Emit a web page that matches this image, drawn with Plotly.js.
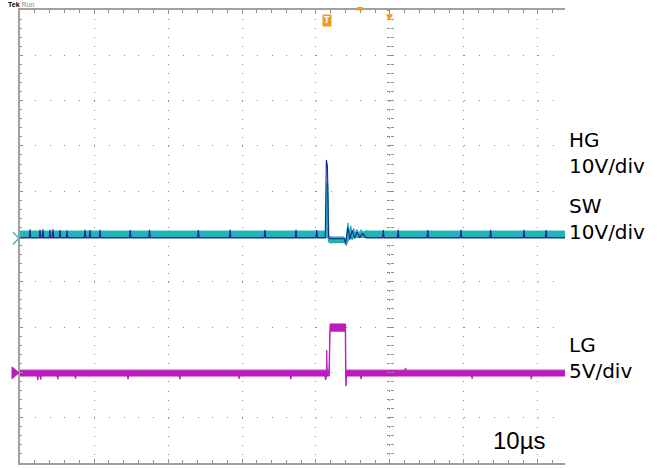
<!DOCTYPE html>
<html>
<head>
<meta charset="utf-8">
<script src="https://cdn.plot.ly/plotly-3.0.1.min.js"></script>
<style>html,body{margin:0;padding:0;background:#fff;}#chart{width:666px;height:468px;}</style>
</head>
<body>
<div id="chart"></div>
<script>
// time in divisions (10 µs/div), voltage in divisions from bottom of screen
// SW (teal) envelope
const swT  = [0, 4.13, 4.145, 4.16, 4.175, 4.19, 4.38, 4.395, 4.41, 4.43, 4.45, 4.47, 4.49, 4.51, 4.53, 4.55, 4.58, 4.61, 4.64, 4.68, 4.72, 7.37];
const swHi = [5.12, 5.12, 6.18, 6.18, 5.0, 4.99, 4.99, 4.95, 4.92, 5.3, 5.1, 5.24, 5.04, 5.18, 5.06, 5.16, 5.08, 5.15, 5.1, 5.13, 5.12, 5.12];
const swLo = [4.98, 4.98, 4.98, 4.98, 4.87, 4.86, 4.87, 4.83, 4.80, 4.9, 4.93, 4.96, 4.93, 4.97, 4.96, 4.98, 4.98, 4.98, 4.98, 4.98, 4.98, 4.98];

// HG (navy) trace
const hgT = [
  0, 0.125, 0.135, 0.145,
  0.26, 0.27, 0.28,
  0.30, 0.31, 0.32,
  0.395, 0.405, 0.415,
  0.436, 0.446, 0.456,
  0.53, 0.54, 0.55,
  0.625, 0.635, 0.645,
  0.87, 0.88, 0.89,
  0.936, 0.946, 0.956,
  1.07, 1.08, 1.09,
  1.48, 1.49, 1.50,
  1.74, 1.75, 1.76,
  2.40, 2.41, 2.42,
  2.83, 2.84, 2.85,
  3.30, 3.31, 3.32,
  3.72, 3.73, 3.74,
  4.00, 4.01, 4.02,
  4.125, 4.14, 4.155, 4.17, 4.19,
  4.38, 4.40, 4.43, 4.46, 4.49, 4.52, 4.555, 4.59, 4.63, 4.68,
  4.90, 4.91, 4.92,
  5.10, 5.11, 5.12,
  5.50, 5.51, 5.52,
  5.95, 5.96, 5.97,
  6.35, 6.36, 6.37,
  6.80, 6.81, 6.82,
  7.10, 7.11, 7.12,
  7.37];
const hgV = [
  4.97, 4.97, 5.16, 4.97,
  4.97, 5.15, 4.97,
  4.97, 5.16, 4.97,
  4.97, 5.15, 4.97,
  4.97, 5.16, 4.97,
  4.97, 5.14, 4.97,
  4.97, 5.13, 4.97,
  4.97, 5.15, 4.97,
  4.97, 5.14, 4.97,
  4.97, 5.15, 4.97,
  4.97, 5.14, 4.97,
  4.97, 5.15, 4.97,
  4.97, 5.14, 4.97,
  4.97, 5.15, 4.97,
  4.97, 5.14, 4.97,
  4.97, 5.15, 4.97,
  4.97, 5.14, 4.97,
  4.97, 6.69, 6.55, 5.0, 4.95,
  4.95, 4.86, 5.2, 4.94, 5.14, 4.97, 5.1, 4.98, 5.07, 4.97,
  4.97, 5.14, 4.97,
  4.97, 5.15, 4.97,
  4.97, 5.14, 4.97,
  4.97, 5.15, 4.97,
  4.97, 5.14, 4.97,
  4.97, 5.15, 4.97,
  4.97, 5.14, 4.97,
  4.97];

// LG (magenta) envelope
const lgT = [
  0, 0.23, 0.24, 0.25, 0.27, 0.28, 0.29,
  0.50, 0.51, 0.52,
  0.74, 0.75, 0.76,
  1.45, 1.46, 1.47,
  2.15, 2.16, 2.17,
  2.95, 2.96, 2.97,
  3.65, 3.66, 3.67,
  4.12, 4.13, 4.14,
  4.145, 4.152, 4.175,
  4.18, 4.19,
  4.395, 4.40, 4.405, 4.415,
  4.6, 4.61, 4.62,
  5.2, 5.21, 5.22,
  6.1, 6.11, 6.12,
  6.9, 6.91, 6.92,
  7.37];
const lgHi = [
  2.05, 2.05, 2.05, 2.05, 2.05, 2.05, 2.05,
  2.05, 2.05, 2.05,
  2.05, 2.05, 2.05,
  2.05, 2.05, 2.05,
  2.05, 2.05, 2.05,
  2.05, 2.05, 2.05,
  2.05, 2.05, 2.05,
  2.05, 2.05, 2.05,
  2.49, 2.05, 2.05,
  3.07, 3.07,
  3.07, 3.07, 2.05, 2.05,
  2.05, 2.05, 2.05,
  2.05, 2.10, 2.05,
  2.05, 2.05, 2.05,
  2.05, 2.05, 2.05,
  2.05];
const lgLo = [
  1.92, 1.92, 1.83, 1.92, 1.92, 1.84, 1.92,
  1.92, 1.85, 1.92,
  1.92, 1.86, 1.92,
  1.92, 1.85, 1.92,
  1.92, 1.85, 1.92,
  1.92, 1.86, 1.92,
  1.92, 1.85, 1.92,
  1.92, 1.83, 1.92,
  1.92, 1.92, 1.92,
  1.92, 2.91,
  2.91, 1.92, 1.70, 1.92,
  1.92, 1.85, 1.92,
  1.92, 1.92, 1.92,
  1.92, 1.86, 1.92,
  1.92, 1.85, 1.92,
  1.92];

const labelText = ['HG<br>10V/div', 'SW<br>10V/div', 'LG<br>5V/div'];
const labelY = [6.84, 5.39, 2.31];
const timeLabel = '10µs';
const swRef = 4.96, lgRef = 1.99;

const TEAL = '#22b5b8', NAVY = '#1b2290', MAG = '#bb1cbb', ORANGE = '#f39a1e';

const traces = [
  {x: swT, y: swHi, mode: 'lines', line: {color: TEAL, width: 1}, hoverinfo: 'skip'},
  {x: swT, y: swLo, mode: 'lines', line: {color: '#169a9c', width: 1}, fill: 'tonexty', fillcolor: TEAL, hoverinfo: 'skip'},
  {x: hgT, y: hgV, mode: 'lines', line: {color: NAVY, width: 1.1}, hoverinfo: 'skip'},
  {x: lgT, y: lgHi, mode: 'lines', line: {color: MAG, width: 1}, hoverinfo: 'skip'},
  {x: lgT, y: lgLo, mode: 'lines', line: {color: MAG, width: 1}, fill: 'tonexty', fillcolor: MAG, hoverinfo: 'skip'},
  {x: [], y: [], xaxis: 'x', yaxis: 'y2', hoverinfo: 'skip'},
  {x: [], y: [], xaxis: 'x', yaxis: 'y3', hoverinfo: 'skip'}
];

const GRID = '#8e8e8e', AX = '#a0a0a0', TK = '#909090';
const centerAx = (ticks) => ({
  overlaying: 'y', anchor: 'free', position: 5 / 7.365, range: [0, 10],
  showgrid: false, zeroline: false, showline: false, showticklabels: false,
  ticks: ticks, ticklen: 3, tickwidth: 1, tickcolor: TK, tick0: 0, dtick: 0.2
});

const layout = {
  width: 666, height: 468,
  margin: {l: 20, r: 101, t: 10, b: 5, pad: 0},
  paper_bgcolor: '#ffffff', plot_bgcolor: '#ffffff',
  showlegend: false,
  font: {family: 'DejaVu Sans, sans-serif', color: '#000'},
  xaxis: {
    range: [0, 7.365], tick0: 0, dtick: 1, fixedrange: true,
    showgrid: true, gridcolor: GRID, gridwidth: 1, griddash: '1px,8.06px',
    showline: true, linecolor: AX, linewidth: 2, mirror: 'ticks',
    ticks: 'inside', ticklen: 4, tickcolor: TK, showticklabels: false, zeroline: false,
    minor: {tick0: 0, dtick: 0.2, ticks: 'inside', ticklen: 3, tickcolor: TK, showgrid: false}
  },
  yaxis: {
    range: [0, 10], tick0: 0, dtick: 1, fixedrange: true,
    showgrid: true, gridcolor: GRID, gridwidth: 1, griddash: '1px,13.8px',
    showline: true, linecolor: AX, linewidth: 2, mirror: false,
    ticks: 'inside', ticklen: 3, tickcolor: TK, showticklabels: false, zeroline: false,
    minor: {tick0: 0, dtick: 0.2, ticks: 'inside', ticklen: 2, tickcolor: TK, showgrid: false}
  },
  yaxis2: centerAx('outside'),
  yaxis3: centerAx('inside'),
  shapes: [
    {type: 'rect', xref: 'x', yref: 'paper', x0: 4.554, x1: 4.635, y0: 0.999, y1: 1.0066,
     fillcolor: ORANGE, line: {width: 0}},
    // channel reference markers at the left edge
    {type: 'path', xref: 'paper', yref: 'y', xsizemode: 'pixel', ysizemode: 'pixel',
     xanchor: 0, yanchor: swRef, path: 'M-7,6 L-1,0 L-7,-6',
     line: {color: '#3cb8cc', width: 1.5}},
    {type: 'path', xref: 'paper', yref: 'y', xsizemode: 'pixel', ysizemode: 'pixel',
     xanchor: 0, yanchor: lgRef, path: 'M-8,6 L-1,0 L-8,-6 Z',
     fillcolor: MAG, line: {color: MAG, width: 1}}
  ],
  annotations: [
    ...labelText.map((t, i) => ({
      text: t, xref: 'paper', yref: 'y', x: 1.0037, y: labelY[i],
      xanchor: 'left', yanchor: 'middle', align: 'left', showarrow: false,
      font: {family: 'DejaVu Sans, sans-serif', size: 20, color: '#000'}
    })),
    {text: timeLabel, xref: 'paper', yref: 'y', x: 0.864, y: 0.5, xanchor: 'left', yanchor: 'middle',
     showarrow: false, font: {family: 'Liberation Sans, Arial, sans-serif', size: 24, color: '#000'}},
    {text: '<b>T</b>', xref: 'x', yref: 'y', x: 4.155, y: 9.77, showarrow: false,
     font: {family: 'DejaVu Sans, sans-serif', size: 8, color: '#ffffff'}, bgcolor: ORANGE, borderpad: 1},
    {text: '▼', xref: 'x', yref: 'paper', x: 5, y: 1.0, yanchor: 'top', showarrow: false,
     font: {family: 'DejaVu Sans, sans-serif', size: 9, color: ORANGE}},
    {text: '<b>Tek</b> <span style="color:#888">Run</span>', xref: 'paper', yref: 'paper', x: -0.024, y: 1.022,
     xanchor: 'left', yanchor: 'top', showarrow: false, borderpad: 0,
     font: {family: 'Liberation Sans, Arial, sans-serif', size: 7, color: '#000'}}
  ]
};

Plotly.newPlot('chart', traces, layout, {staticPlot: true, displayModeBar: false});
</script>
</body>
</html>
